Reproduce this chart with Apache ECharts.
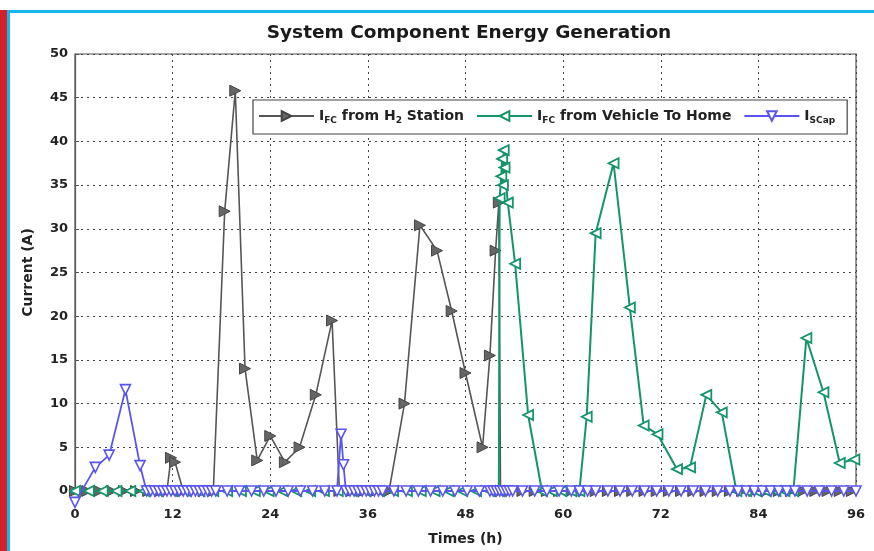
<!DOCTYPE html>
<html><head><meta charset="utf-8">
<script src="https://cdn.jsdelivr.net/npm/echarts@6/dist/echarts.min.js"></script>
<style>html,body{margin:0;padding:0;background:#fff}#c{width:874px;height:551px}</style>
</head><body><div id="c"></div>
<script>
var xTicks = [0, 12, 24, 36, 48, 60, 72, 84, 96];
var yTicks = [0, 5, 10, 15, 20, 25, 30, 35, 40, 45, 50];

var h2Times = [0,1.5,3,4.5,6,7.5,9,10.5,11.3,11.8,12.3,13.3,14.5,15.8,17,18.4,19.7,20.9,22.4,24,25.8,27.6,29.6,31.6,32.5,34,35.5,37,38.6,40.5,42.4,44.5,46.3,48,50.1,51,51.7,52.1,52.3,53.5,55,56.5,58,59.5,61,62.5,64,65.5,67,68.5,70,71.5,73,74.5,76,77.5,79,80.5,82,83.5,85,86.5,88,89.5,91,92.5,94,95.5];
var h2Values = [0,0,0,0,0,0,0,0,0,3.8,3.3,0,0,0,0,32,45.8,14,3.5,6.3,3.3,5,11,19.5,0,0,0,0,0,10,30.4,27.5,20.6,13.5,5,15.5,27.5,33,0,0,0,0,0,0,0,0,0,0,0,0,0,0,0,0,0,0,0,0,0,0,0,0,0,0,0,0,0,0];

var v2hTimes = [0,1.7,3.4,5.1,6.8,8.5,10.2,11.9,13.6,15.3,17,18.7,20.4,22.1,23.8,25.5,27.2,28.9,30.6,32.3,34,35.7,37.4,39.1,40.8,42.5,44.2,45.9,47.6,49.3,51,52.1,52.2,52.4,52.5,52.6,52.7,52.8,53.2,54.1,55.7,57.4,58.6,59.8,61,62,62.9,64,66.2,68.2,69.9,71.6,74,75.6,77.6,79.5,81.3,82.5,83.7,84.9,86.1,87.2,88.3,89.9,92,94,95.8];
var v2hValues = [0,0,0,0,0,0,0,0,0,0,0,0,0,0,0,0,0,0,0,0,0,0,0,0,0,0,0,0,0,0,0,0,33.5,36,38,35,39,37,33,26,8.7,0,0,0,0,0,8.5,29.5,37.5,21,7.5,6.5,2.5,2.7,11,9,0,0,0,0,0,0,0,17.5,11.3,3.2,3.6];

var scapTimes = [0,2.5,4.2,6.2,8,8.8,9.3,9.8,10.3,10.8,11.3,11.8,12.3,12.8,13.3,13.8,14.3,14.8,15.3,15.8,16.3,16.8,17.3,18.7,20.2,21.7,23.2,24.7,26.2,27.7,29.2,30.7,32.2,32.7,33,33.3,33.8,34.3,34.8,35.3,35.8,36.3,36.8,37.3,37.8,39.2,40.7,42.2,43.7,45.2,46.7,48.2,49.7,51,51.4,51.8,52.2,52.6,53,53.4,53.8,55,56.5,58,59.5,61,62,63,64,65.5,67,68.5,70,71.5,73,74.5,76,77.5,79,80.5,81.5,82.5,83.5,84.5,85.5,86.5,87.5,88.5,90,91.5,93,94.5,96];
var scapValues = [-1.3,2.7,4.1,11.6,2.9,0,0,0,0,0,0,0,0,0,0,0,0,0,0,0,0,0,0,0,0,0,0,0,0,0,0,0,0,6.5,3,0,0,0,0,0,0,0,0,0,0,0,0,0,0,0,0,0,0,0,0,0,0,0,0,0,0,0,0,0,0,0,0,0,0,0,0,0,0,0,0,0,0,0,0,0,0,0,0,0,0,0,0,0,0,0,0,0,0];

function zip(t, v) { return t.map(function (x, i) { return [x, v[i]]; }); }

var fontFam = '"DejaVu Sans", "Liberation Sans", Arial, sans-serif';
var sub = { fontSize: 9, fontWeight: 'bold', fontFamily: fontFam, padding: [9, 0, 0, 0], color: '#222' };
var main = { fontSize: 14, fontWeight: 'bold', fontFamily: fontFam, color: '#222' };

var chart = echarts.init(document.getElementById('c'));
chart.setOption({
  animation: false,
  backgroundColor: '#fff',
  title: {
    text: 'System Component Energy Generation',
    left: 464, top: 19, textAlign: 'center',
    textStyle: { fontSize: 18.5, fontWeight: 'bold', fontFamily: fontFam, color: '#1a1a1a' }
  },
  grid: { left: 75, right: 18, top: 54, bottom: 55, show: true, borderColor: '#555', borderWidth: 1.2 },
  legend: {
    left: 253, top: 100,
    padding: [9, 12, 9, 5], itemGap: 12, itemWidth: 55, itemHeight: 12,
    borderColor: '#444', borderWidth: 1.2, backgroundColor: '#fff',
    data: ['h2', 'v2h', 'scap'],
    formatter: function (name) {
      if (name === 'h2') return '{m|I}{s|FC}{m| from H}{s|2}{m| Station}';
      if (name === 'v2h') return '{m|I}{s|FC}{m| from Vehicle To Home}';
      return '{m|I}{s|SCap}';
    },
    textStyle: { rich: { m: main, s: sub } }
  },
  xAxis: {
    type: 'value', min: 0, max: 96, interval: 12,
    name: 'Times (h)', nameLocation: 'middle', nameGap: 41,
    nameTextStyle: { fontSize: 14, fontWeight: 'bold', fontFamily: fontFam, color: '#222' },
    axisLine: { show: true, lineStyle: { color: '#555', width: 1.2 } },
    axisTick: { show: true, inside: true, length: 4, lineStyle: { color: '#555' } },
    axisLabel: { fontSize: 13, fontWeight: 'bold', fontFamily: fontFam, color: '#222', margin: 17 },
    splitLine: { show: true, lineStyle: { type: [2, 4], color: '#444', width: 1 } }
  },
  yAxis: {
    type: 'value', min: 0, max: 50, interval: 5,
    name: 'Current (A)', nameLocation: 'middle', nameGap: 40, nameRotate: 90,
    nameTextStyle: { fontSize: 14, fontWeight: 'bold', fontFamily: fontFam, color: '#222' },
    axisLine: { show: true, lineStyle: { color: '#555', width: 1.2 } },
    axisTick: { show: true, inside: true, length: 4, lineStyle: { color: '#555' } },
    axisLabel: { fontSize: 13, fontWeight: 'bold', fontFamily: fontFam, color: '#222', margin: 7 },
    splitLine: { show: true, lineStyle: { type: [2, 4], color: '#444', width: 1 } }
  },
  series: [
    {
      name: 'h2', type: 'line', data: zip(h2Times, h2Values),
      symbol: 'triangle', symbolSize: 11, symbolRotate: -90,
      lineStyle: { color: '#555', width: 1.6 },
      itemStyle: { color: '#666', borderColor: '#444', borderWidth: 1 },
      z: 2
    },
    {
      name: 'v2h', type: 'line', data: zip(v2hTimes, v2hValues),
      symbol: 'triangle', symbolSize: 10, symbolRotate: 90,
      lineStyle: { color: '#14946a', width: 2 },
      itemStyle: { color: '#fff', borderColor: '#14946a', borderWidth: 1.8 },
      z: 3
    },
    {
      name: 'scap', type: 'line', data: zip(scapTimes, scapValues), clip: false,
      symbol: 'triangle', symbolSize: 10, symbolRotate: 180,
      lineStyle: { color: '#5a55ee', width: 1.8 },
      itemStyle: { color: '#fff', borderColor: '#5a55ee', borderWidth: 1.6 },
      z: 4
    }
  ],
  graphic: [
    { type: 'rect', shape: { x: 0, y: 10, width: 7, height: 541 }, style: { fill: '#d42028' }, z: 100 },
    { type: 'rect', shape: { x: 7, y: 10, width: 3, height: 541 }, style: { fill: '#1ab4ec' }, z: 100 },
    { type: 'rect', shape: { x: 7, y: 10, width: 867, height: 3 }, style: { fill: '#1ab4ec' }, z: 100 }
  ]
});
</script></body></html>
